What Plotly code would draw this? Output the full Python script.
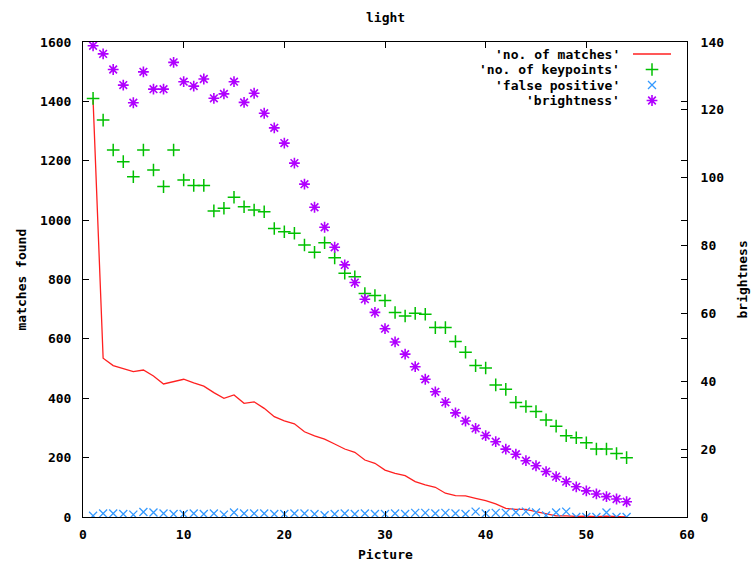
import plotly.graph_objects as go

# picture index 1..54
picture = list(range(1, 55))

matches = [1405, 535, 510, 500, 490, 495, 475, 448, 455, 464,
           452, 441, 419, 400, 411, 383, 388, 366, 338, 324,
           314, 287, 273, 262, 246, 229, 218, 192, 181, 158,
           147, 139, 119, 108, 100, 80, 72, 71, 63, 55,
           44, 29, 26, 26, 18, 10, 4, 4, 2, 3,
           1, 3, 1, 0]

keypoints = [1410, 1337, 1236, 1197, 1146, 1236, 1169, 1113, 1236, 1135,
             1117, 1117, 1031, 1040, 1077, 1045, 1034, 1028, 972, 961,
             956, 916, 892, 924, 873, 821, 809, 753, 746, 729,
             689, 677, 686, 683, 638, 638, 591, 555, 510, 502,
             445, 430, 386, 372, 355, 327, 306, 274, 267, 250,
             229, 229, 214, 200]

false_positive = [4, 12, 12, 10, 8, 17, 15, 12, 10, 10,
                  12, 10, 12, 8, 15, 12, 12, 12, 10, 10,
                  12, 12, 10, 6, 10, 12, 10, 12, 10, 10,
                  12, 10, 14, 14, 12, 14, 12, 10, 18, 12,
                  14, 14, 16, 18, 15, 5, 15, 18, 0, 0,
                  0, 15, 0, 0]

brightness = [138.9, 136.5, 131.9, 127.3, 122.1, 131.2, 126.1, 126.1, 134.0, 128.3,
              127.0, 129.1, 123.4, 124.7, 128.3, 122.2, 124.9, 119.0, 114.7, 110.2,
              104.3, 98.1, 91.3, 85.4, 79.5, 74.3, 69.1, 64.2, 60.3, 55.5,
              51.6, 48.0, 44.3, 40.6, 36.9, 33.8, 30.7, 28.3, 26.1, 24.0,
              22.2, 20.0, 18.5, 16.6, 15.1, 13.4, 11.9, 10.4, 8.9, 7.7,
              6.8, 6.0, 5.3, 4.5]

x_ticks = [0, 10, 20, 30, 40, 50, 60]
y_ticks = [0, 200, 400, 600, 800, 1000, 1200, 1400, 1600]
y2_ticks = [0, 20, 40, 60, 80, 100, 120, 140]

series_names = ["'no. of matches'", "'no. of keypoints'", "'false positive'", "'brightness'"]

RED = "#ff2020"
GREEN = "#00c000"
BLUE = "#3399ff"
PURPLE = "#b000ff"

FONT = dict(family="DejaVu Sans Mono", size=13, color="#000000", weight="bold")

W, H = 753, 566
L, R, T, B = 83, 687, 42, 517  # plot area in pixels

PLUS = dict(symbol="cross-thin", size=9, line=dict(color=GREEN, width=1.5))
CROSS = dict(symbol="x-thin", size=8, line=dict(color=BLUE, width=1.3))
STAR = dict(symbol="asterisk", size=9, line=dict(color=PURPLE, width=1.6))

fig = go.Figure()

fig.add_trace(go.Scatter(x=picture, y=matches, mode="lines",
                         line=dict(color=RED, width=1.3), name=series_names[0]))
fig.add_trace(go.Scatter(x=picture, y=keypoints, mode="markers",
                         marker=PLUS, name=series_names[1]))
fig.add_trace(go.Scatter(x=picture, y=false_positive, mode="markers",
                         marker=CROSS, name=series_names[2]))
fig.add_trace(go.Scatter(x=picture, y=brightness, mode="markers", yaxis="y2",
                         marker=STAR, name=series_names[3]))

# key block (pixel-space overlay axes), text right-aligned with sample to the right
key_rows = [54, 69.5, 85, 100.5]
text_right = 622
sample_x = 652


def px_to_paper_x(px):
    return (px - L) / (R - L)


def px_to_paper_y(py):
    return (B - py) / (B - T)


annotations = []
for name, yy in zip(series_names, key_rows):
    annotations.append(dict(text=name, x=px_to_paper_x(text_right), y=px_to_paper_y(yy),
                            xref="paper", yref="paper", xanchor="right", yanchor="middle",
                            showarrow=False, font=FONT))

fig.add_trace(go.Scatter(x=[633, 671], y=[key_rows[0], key_rows[0]], mode="lines",
                         line=dict(color=RED, width=1.3), xaxis="x3", yaxis="y3",
                         hoverinfo="skip"))
for marker, yy in zip([PLUS, CROSS, STAR], key_rows[1:]):
    fig.add_trace(go.Scatter(x=[sample_x], y=[yy], mode="markers", marker=marker,
                             xaxis="x3", yaxis="y3", hoverinfo="skip"))

# axis titles
annotations += [
    dict(text="Picture", x=0.5, y=px_to_paper_y(554), xref="paper", yref="paper",
         xanchor="center", yanchor="middle", showarrow=False, font=FONT),
    dict(text="matches found", x=px_to_paper_x(21), y=0.5, xref="paper", yref="paper",
         xanchor="center", yanchor="middle", textangle=-90, showarrow=False, font=FONT),
    dict(text="brightness", x=px_to_paper_x(742), y=0.5, xref="paper", yref="paper",
         xanchor="center", yanchor="middle", textangle=-90, showarrow=False, font=FONT),
    dict(text="light", x=0.5, y=px_to_paper_y(18), xref="paper", yref="paper",
         xanchor="center", yanchor="middle", showarrow=False, font=FONT),
]

axis_common = dict(showgrid=False, zeroline=False, showline=True, linecolor="#000000",
                   linewidth=1, ticks="inside", ticklen=6, tickcolor="#000000",
                   tickfont=FONT)

fig.update_layout(
    width=W, height=H,
    margin=dict(l=L, r=W - R, t=T, b=H - B, pad=0),
    paper_bgcolor="white", plot_bgcolor="white",
    showlegend=False,
    xaxis=dict(range=[0, 60], tickvals=x_ticks, mirror="ticks",
               ticklabelstandoff=5, **axis_common),
    yaxis=dict(range=[0, 1600], tickvals=y_ticks, mirror="ticks",
               ticklabelstandoff=8, **axis_common),
    yaxis2=dict(range=[0, 140], tickvals=y2_ticks, overlaying="y", side="right",
                ticklabelstandoff=10, **axis_common),
    xaxis3=dict(range=[L, R], overlaying="x", visible=False, fixedrange=True),
    yaxis3=dict(range=[B, T], overlaying="y", visible=False, fixedrange=True),
    annotations=annotations,
)

fig.write_html("out.html")
